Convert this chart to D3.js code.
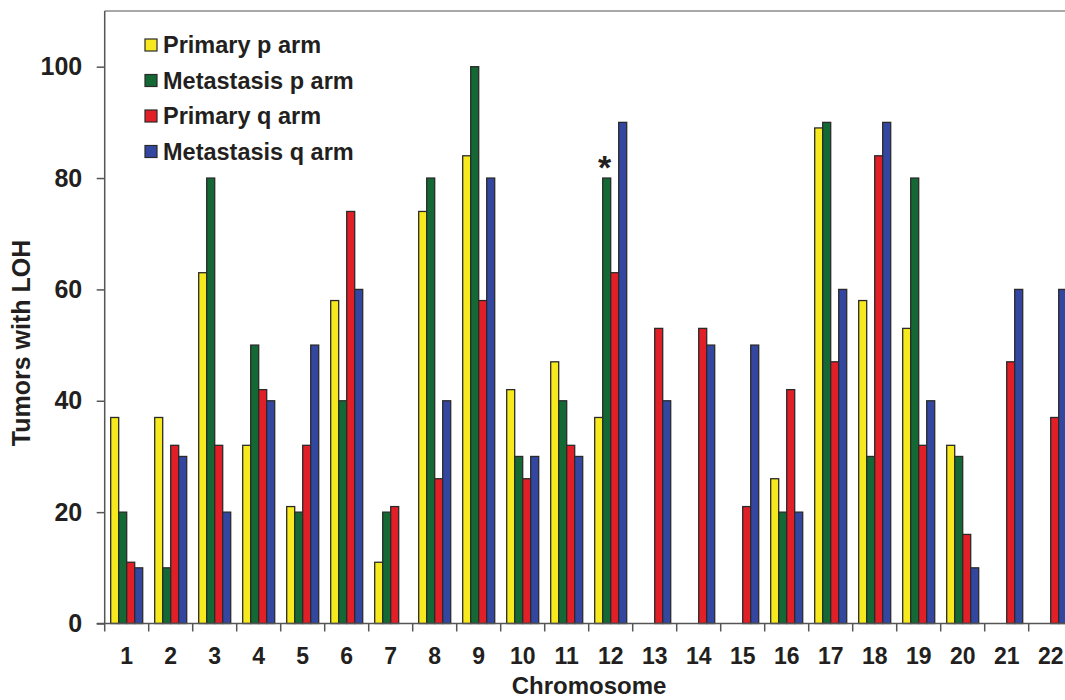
<!DOCTYPE html>
<html>
<head>
<meta charset="utf-8">
<script src="https://cdn.jsdelivr.net/npm/d3@7"></script>
<style>
  body { margin: 0; background: #fff; }
  svg { display: block; font-family: "Liberation Sans", Arial, sans-serif; font-weight: bold; }
</style>
</head>
<body>
<svg width="1065" height="700"></svg>
<script>
// chromosome numbers on the x axis
const chromosomes = d3.range(1, 23).map(String);

const seriesNames = ['Primary p arm', 'Metastasis p arm', 'Primary q arm', 'Metastasis q arm'];
const seriesColors = ['#f6ea1f', '#136834', '#e01f27', '#3447a0'];

// tumors with LOH per chromosome (null = no bar)
const primaryP    = [37, 37, 63, 32, 21, 58, 11, 74, 84, 42, 47, 37, null, null, null, 26, 89, 58, 53, 32, null, null];
const metastasisP = [20, 10, 80, 50, 20, 40, 20, 80, 100, 30, 40, 80, null, null, null, 20, 90, 30, 80, 30, null, null];
const primaryQ    = [11, 32, 32, 42, 32, 74, 21, 26, 58, 26, 32, 63, 53, 53, 21, 42, 47, 84, 32, 16, 47, 37];
const metastasisQ = [10, 30, 20, 40, 50, 60, null, 40, 80, 30, 30, 90, 40, 50, 50, 20, 60, 90, 40, 10, 60, 60];

const yTicks = [0, 20, 40, 60, 80, 100];
const starChromosome = '12';

const seriesValues = [primaryP, metastasisP, primaryQ, metastasisQ];
const rows = [];
chromosomes.forEach((c, i) => {
    seriesNames.forEach((s, j) => {
        if (seriesValues[j][i] != null) rows.push({ chrom: c, series: s, value: seriesValues[j][i], color: seriesColors[j] });
    });
});

const svg = d3.select('svg');
const plotLeft = 104.7, plotBottom = 623.5, plotTop = 11;

const x0 = d3.scaleBand().domain(chromosomes).range([plotLeft, plotLeft + 44 * chromosomes.length]).padding(0);
const x1 = d3.scaleBand().domain(seriesNames).range([0, x0.bandwidth()]).paddingInner(0).paddingOuter(0.75);
const y = d3.scaleLinear().domain([0, 110]).range([plotBottom, plotTop]);

// top frame line
svg.append('line')
    .attr('x1', plotLeft).attr('x2', 1065)
    .attr('y1', plotTop).attr('y2', plotTop)
    .attr('stroke', '#a8a8a8').attr('stroke-width', 2);

// bars
svg.append('g').selectAll('rect')
    .data(rows)
    .join('rect')
    .attr('x', d => x0(d.chrom) + x1(d.series))
    .attr('y', d => y(d.value))
    .attr('width', x1.bandwidth())
    .attr('height', d => y(0) - y(d.value))
    .attr('fill', d => d.color)
    .attr('stroke', '#2a2a2a')
    .attr('stroke-width', 1.3);

// y axis
const yAxisG = svg.append('g')
    .attr('transform', `translate(${plotLeft},0)`)
    .call(d3.axisLeft(y).tickValues(yTicks).tickSize(8).tickPadding(14.5).tickSizeOuter(0));
yAxisG.select('.domain').attr('stroke', '#555').attr('stroke-width', 1.5)
    .attr('d', `M0,${plotTop}V${plotBottom}`);
yAxisG.selectAll('.tick line').attr('stroke', '#555').attr('stroke-width', 1.5);
yAxisG.selectAll('.tick text')
    .attr('font-size', 25).attr('font-family', '"Liberation Sans", Arial, sans-serif')
    .attr('font-weight', 'bold').attr('fill', '#231f20');

// x axis labels
const xAxisG = svg.append('g')
    .attr('transform', `translate(0,${plotBottom})`)
    .call(d3.axisBottom(x0).tickSize(0).tickPadding(24));
xAxisG.select('.domain').attr('stroke', '#555').attr('stroke-width', 1.5)
    .attr('d', `M${plotLeft - 8},0H1065`);
xAxisG.selectAll('.tick text')
    .attr('font-size', 23).attr('font-family', '"Liberation Sans", Arial, sans-serif')
    .attr('font-weight', 'bold').attr('fill', '#231f20');

// x separators between chromosomes
svg.append('g').selectAll('line')
    .data(chromosomes)
    .join('line')
    .attr('x1', d => x0(d)).attr('x2', d => x0(d))
    .attr('y1', plotBottom).attr('y2', plotBottom + 8)
    .attr('stroke', '#555').attr('stroke-width', 1.5);

// axis titles
svg.append('text')
    .attr('transform', 'translate(30,343) rotate(-90)')
    .attr('text-anchor', 'middle')
    .attr('font-size', 25).attr('fill', '#231f20')
    .text('Tumors with LOH');

svg.append('text')
    .attr('x', 589).attr('y', 694)
    .attr('text-anchor', 'middle')
    .attr('font-size', 24).attr('fill', '#231f20')
    .text('Chromosome');

// significance star
const starIdx = chromosomes.indexOf(starChromosome);
svg.append('text')
    .attr('x', x0(starChromosome) + x1(seriesNames[1]) + x1.bandwidth() / 2 - 2)
    .attr('y', y(metastasisP[starIdx]) + 1)
    .attr('text-anchor', 'middle')
    .attr('font-size', 34).attr('fill', '#231f20')
    .text('*');

// legend
const legendG = svg.append('g').attr('transform', 'translate(145,45)');
const legendItem = legendG.selectAll('g')
    .data(seriesNames)
    .join('g')
    .attr('transform', (d, i) => `translate(0,${i * 35.5})`);
legendItem.append('rect')
    .attr('x', 0).attr('y', -6)
    .attr('width', 12).attr('height', 12)
    .attr('fill', (d, i) => seriesColors[i])
    .attr('stroke', '#2a2a2a').attr('stroke-width', 1.2);
legendItem.append('text')
    .attr('x', 18).attr('y', 0).attr('dy', '0.35em')
    .attr('font-size', 23.5).attr('fill', '#231f20')
    .text(d => d);
</script>
</body>
</html>
